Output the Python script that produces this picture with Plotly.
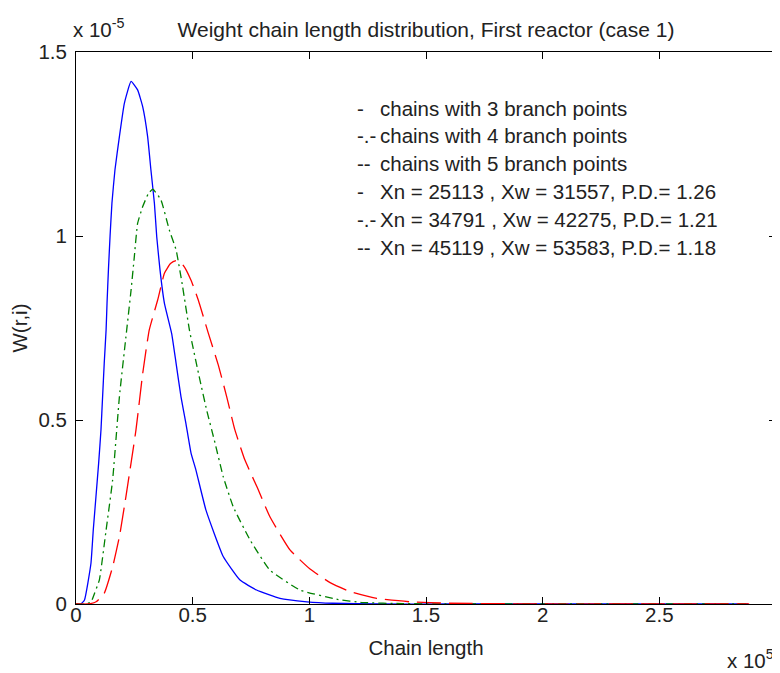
import plotly.graph_objects as go

# Chain length in units of 1e5, W(r,i) in units of 1e-5
x_b3 = [0, 0.02, 0.036, 0.064, 0.074, 0.097, 0.107, 0.114, 0.121, 0.129, 0.133, 0.139, 0.146,
        0.154, 0.167, 0.186, 0.207, 0.236, 0.264, 0.286, 0.307, 0.321, 0.336, 0.346, 0.36,
        0.379, 0.41, 0.429, 0.45, 0.471, 0.493, 0.514, 0.557, 0.631, 0.703,
        0.774, 0.874, 0.99, 1.1, 1.3, 1.6, 2.0, 2.5, 2.88]
w_b3 = [0, 0.0, 0.01, 0.11, 0.201, 0.382, 0.473, 0.563, 0.654, 0.745, 0.817, 0.908, 1.0,
        1.089, 1.18, 1.27, 1.36, 1.42, 1.397, 1.351, 1.27, 1.18, 1.089, 0.998, 0.908,
        0.817, 0.735, 0.654, 0.563, 0.491, 0.41, 0.364, 0.255, 0.129, 0.065,
        0.038, 0.015, 0.006, 0.002, 0.0, 0.0, 0.0, 0.0, 0.0]

x_b4 = [0, 0.04, 0.064, 0.08, 0.1, 0.129, 0.157, 0.186, 0.214, 0.236, 0.25, 0.264, 0.286, 0.31,
        0.329, 0.364, 0.4, 0.429, 0.457, 0.486, 0.531, 0.56, 0.596, 0.631, 0.674, 0.746,
        0.831, 0.96, 1.117, 1.23, 1.4, 1.6, 2.0, 2.5, 2.88]
w_b4 = [0, 0.0, 0.005, 0.03, 0.065, 0.201, 0.337, 0.563, 0.726, 0.853, 0.944, 1.034, 1.08, 1.115,
        1.127, 1.098, 1.016, 0.962, 0.862, 0.745, 0.609, 0.527, 0.437, 0.346, 0.264, 0.174,
        0.092, 0.038, 0.013, 0.004, 0.001, 0.0, 0.0, 0.0, 0.0]

x_b5 = [0, 0.05, 0.086, 0.121, 0.157, 0.186, 0.214, 0.257, 0.286, 0.314, 0.35, 0.379, 0.405,
        0.429, 0.46, 0.493, 0.524, 0.567, 0.61, 0.646, 0.681, 0.724, 0.778, 0.831, 0.917,
        1.003, 1.089, 1.174, 1.289, 1.43, 1.6, 2.0, 2.5, 2.885]
w_b5 = [0, 0.0, 0.006, 0.029, 0.101, 0.183, 0.292, 0.473, 0.627, 0.745, 0.826, 0.899, 0.925,
        0.933, 0.92, 0.88, 0.826, 0.736, 0.649, 0.563, 0.473, 0.391, 0.315, 0.237, 0.147,
        0.095, 0.058, 0.034, 0.015, 0.006, 0.002, 0.0, 0.0, 0.0]

x_ticks = [0, 0.5, 1, 1.5, 2, 2.5, 3]
x_tick_text = ["0", "0.5", "1", "1.5", "2", "2.5", "3"]
y_ticks = [0, 0.5, 1, 1.5]
y_tick_text = ["0", "0.5", "1", "1.5"]

legend_prefix = ["-", "-.-", "--", "-", "-.-", "--"]
legend_text = [
    "chains with 3 branch points",
    "chains with 4 branch points",
    "chains with 5 branch points",
    "Xn = 25113 , Xw = 31557, P.D.= 1.26",
    "Xn = 34791 , Xw = 42275, P.D.= 1.21",
    "Xn = 45119 , Xw = 53583, P.D.= 1.18",
]

FONT = "Liberation Sans, Arial, sans-serif"
TXT = "#222222"
FS = 20.5

# page body has an 8px margin, so the figure is sized to fill the rest of the window
W, H = 772, 665

fig = go.Figure()
fig.add_trace(go.Scatter(x=x_b3, y=w_b3, mode="lines",
                         line=dict(color="#0000ff", width=1.3, shape="spline", smoothing=0.4)))
fig.add_trace(go.Scatter(x=x_b4, y=w_b4, mode="lines",
                         line=dict(color="#008000", width=1.3, dash="8px,4px,2px,4px",
                                   shape="spline", smoothing=0.4)))
fig.add_trace(go.Scatter(x=x_b5, y=w_b5, mode="lines",
                         line=dict(color="#ff0000", width=1.3, dash="24px,8px",
                                   shape="spline", smoothing=0.4)))

axis_common = dict(showgrid=False, zeroline=False, showline=True, linecolor="black",
                   linewidth=1, mirror="ticks", ticks="inside", ticklen=7,
                   tickcolor="black", tickwidth=1, automargin=False,
                   tickfont=dict(family=FONT, size=FS, color=TXT))

fig.update_xaxes(range=[0, 3], tickvals=x_ticks, ticktext=x_tick_text,
                 ticklabelstandoff=-8,
                 title=dict(text="Chain length", font=dict(family=FONT, size=FS, color=TXT),
                            standoff=16),
                 **axis_common)
fig.update_yaxes(range=[0, 1.5], tickvals=y_ticks, ticktext=y_tick_text,
                 ticklabelstandoff=4,
                 title=dict(text="W(r,i)", font=dict(family=FONT, size=FS, color=TXT),
                            standoff=14),
                 **axis_common)

annotations = []
line_y0 = 108
for i, (p, t) in enumerate(zip(legend_prefix, legend_text)):
    py = line_y0 + i * 27.8
    yp = (604 - py) / 552
    annotations.append(dict(x=(355 - 76) / 700, y=yp, xref="paper", yref="paper",
                            text=p, showarrow=False, xanchor="left", yanchor="middle",
                            font=dict(family=FONT, size=FS, color=TXT)))
    annotations.append(dict(x=(378 - 76) / 700, y=yp, xref="paper", yref="paper",
                            text=t, showarrow=False, xanchor="left", yanchor="middle",
                            font=dict(family=FONT, size=FS, color=TXT)))

annotations.append(dict(x=0, y=(604 - 43) / 552, xref="paper", yref="paper",
                        text="x 10<sup>-5</sup>", showarrow=False, xanchor="left",
                        yanchor="bottom", xshift=-5,
                        font=dict(family=FONT, size=FS, color=TXT)))
annotations.append(dict(x=1, y=(604 - 659) / 552, xref="paper", yref="paper",
                        text="x 10<sup>5</sup>", showarrow=False, xanchor="right",
                        yanchor="middle",
                        font=dict(family=FONT, size=FS, color=TXT)))

fig.update_layout(
    width=W, height=H,
    margin=dict(l=68, r=4, t=44, b=69),
    paper_bgcolor="white", plot_bgcolor="white",
    showlegend=False,
    title=dict(text="Weight chain length distribution, First reactor (case 1)",
               x=(68 + 350) / W, xanchor="center", y=1 - 22 / H, yanchor="middle",
               font=dict(family=FONT, size=21, color=TXT)),
    annotations=annotations,
)

fig.write_html("out.html")
